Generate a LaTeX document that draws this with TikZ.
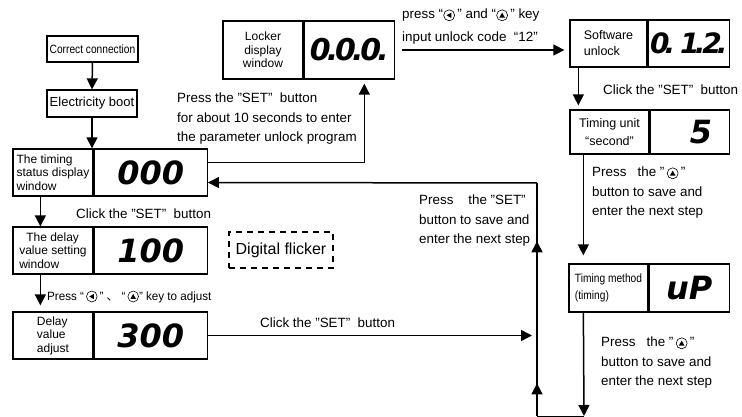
\documentclass[tikz,border=0pt]{standalone}
\usepackage{fontspec}
\usepackage{pict2e}
\setmainfont{Liberation Sans}
\newfontfamily\digf{DejaVu Sans}
\newfontfamily\cjk{Noto Sans CJK SC}
\usetikzlibrary{arrows.meta,positioning,decorations.markings}

\newcommand\keyup{{\unitlength=1pt\linethickness{0.6pt}\begin{picture}(12,8)
  \put(6,3.6){\circle{11}}\polygon*(3.1,1.2)(8.9,1.2)(6,6.2)\end{picture}}}
\newcommand\keyleft{{\unitlength=1pt\linethickness{0.6pt}\begin{picture}(12,8)
  \put(6,3.6){\circle{11}}\polygon*(3.4,3.6)(8.2,0.9)(8.2,6.3)\end{picture}}}
\newcommand\nar[1]{\scalebox{0.85}[1]{#1}}
\newcommand\dt{\kern-4pt.}

\begin{document}
\begin{tikzpicture}[x=1pt,y=-1pt,
    font=\fontsize{12}{13.5}\selectfont,
    box/.style={draw,line width=1.3pt,inner sep=1pt,align=center},
    disp/.style={box,font=\digf\bfseries\itshape\fontsize{32}{32}\selectfont},
    arr/.style={line width=1.5pt,-{Triangle[width=11pt,length=11pt]}},
    wire/.style={line width=1.5pt},
    note/.style={align=left,anchor=north west,inner sep=0pt,font=\fontsize{13.4}{19.5}\selectfont},
    midarrows/.style={postaction={decorate},decoration={markings,
      mark=at position 0.14 with {\arrow{Triangle[width=11pt,length=11pt]}},
      mark=at position 0.75 with {\arrow{Triangle[width=11pt,length=11pt]}}}}]
  \useasboundingbox (0,0) rectangle (742,417);

  \node[box,minimum width=91pt,minimum height=26pt] (cc) at (92.5,49) {\nar{Correct connection}};
  \node[box,minimum width=90pt,minimum height=27pt,font=\fontsize{13}{14}\selectfont] (eb) at (92,103.5) {Electricity boot};

  \node[box,minimum width=80pt,minimum height=47pt,align=left] (ts) at (53,172.5) {The timing\\status display\\window};
  \node[disp,minimum width=113pt,minimum height=47pt,right=0pt of ts] (tsd) {000};
  \node[box,minimum width=80pt,minimum height=47pt,align=left] (ds) at (53,250.5) {\hspace{7pt}The delay\\value setting\\window};
  \node[disp,minimum width=113pt,minimum height=47pt,right=0pt of ds] (dsd) {100};
  \node[box,minimum width=80pt,minimum height=47pt,align=left] (da) at (53,335.5) {Delay\\value\\adjust};
  \node[disp,minimum width=113pt,minimum height=47pt,right=0pt of da] (dad) {300};
  \node[draw,dashed,dash pattern=on 6pt off 5pt,line width=1.3pt,minimum width=104pt,minimum height=36pt,
    font=\fontsize{16}{16}\selectfont] (df) at (281,250) {Digital flicker};

  \node[box,minimum width=80pt,minimum height=58pt] (lk) at (263,50) {Locker\\display\\window};
  \node[disp,minimum width=90pt,minimum height=58pt,right=0pt of lk,font=\digf\bfseries\itshape\fontsize{30}{30}\selectfont] (lkd) {0\dt\kern-3pt0\dt\kern-3pt0\dt};

  \node[box,minimum width=77pt,minimum height=47pt,align=left,font=\fontsize{12.5}{16}\selectfont] (su) at (608.5,43.5) {Software\\unlock};
  \node[disp,minimum width=81pt,minimum height=47pt,right=0pt of su,font=\digf\bfseries\itshape\fontsize{28}{28}\selectfont] (sud) {0\kern-5pt.\kern5pt1\kern-5pt.\kern-3pt2\kern-5pt.};
  \node[box,minimum width=79pt,minimum height=44pt,font=\fontsize{12.5}{18}\selectfont] (tu) at (609.5,132) {Timing unit\\“second”};
  \node[disp,minimum width=79pt,minimum height=44pt,right=0pt of tu] (tud) {\phantom{0}5};
  \node[box,minimum width=79pt,minimum height=48pt,align=left,font=\fontsize{12}{17}\selectfont] (tm) at (608.5,288) {\nar{Timing method}\\\nar{(timing)}};
  \node[disp,minimum width=80pt,minimum height=48pt,right=0pt of tm] (tmd) {uP};

  \node[note] (t1) at (177,93) {Press the "SET"\ \ button\\for about 10 seconds to enter\\the parameter unlock program};
  \node[note,font=\fontsize{13.4}{23}\selectfont] (t2) at (402,9) {press “\keyleft\,” and “\keyup\,” key\\input unlock code \ “12”};
  \node[note,anchor=west] (t3) at (603,90) {Click the "SET"\ \ button};
  \node[note] (t4) at (592,167) {Press \ \ the "\,\keyup\,"\\button to save and\\enter the next step};
  \node[note] (t5) at (601,337) {Press \ \ the "\,\keyup\,"\\button to save and\\enter the next step};
  \node[note] (t6) at (419,195) {Press \ \ \ the "SET"\\button to save and\\enter the next step};
  \node[note,anchor=west] (t7) at (76,214) {Click the "SET"\ \ button};
  \node[note,anchor=west,font=\fontsize{12}{14}\selectfont] (t8) at (47,297) {\scalebox{0.97}[1]{Press “\,\keyleft\,”\ {\cjk 、}\ “\,\keyup” key to adjust}};
  \node[note,anchor=west] (t9) at (260,323) {Click the "SET"\ \ button};

  \coordinate (br) at (584,416);
  \coordinate (bl) at (537,416);
  \coordinate (tr) at (537,183);

  \draw[arr] (cc.south) -- (eb.north);
  \draw[arr] (eb.south) -- (eb.south |- ts.north);
  \draw[arr] ([yshift=10pt]tsd.east) -| ([xshift=15pt,yshift=-4pt]lkd.south);
  \draw[arr] ([xshift=7pt]lkd.east) -- ([xshift=-5pt]lkd.east -| su.west);
  \draw[arr] ([xshift=9pt]su.south west) -- ([xshift=9pt,yshift=4pt]su.south west |- tu.north);
  \draw[arr] ([xshift=14pt]tu.south west) -- ([xshift=14pt,yshift=8pt]tu.south west |- tm.north);
  \draw[arr] ([xshift=15pt]tm.south west) -- (br);
  \draw[line width=0.8pt] (br) -- (bl);
  \draw[wire,midarrows] (bl) -- (tr);
  \draw[arr] (tr) -- ([yshift=-10pt]tsd.east);
  \draw[arr] (dad.east) -- ([xshift=-5pt]dad.east -| bl);
  \draw[arr] ([xshift=28pt]ts.south west) -- ([xshift=28pt]ts.south west |- ds.north);
  \draw[arr] ([xshift=28pt]ds.south west) -- ([xshift=28pt,yshift=6pt]ds.south west |- da.north);
\end{tikzpicture}
\end{document}
